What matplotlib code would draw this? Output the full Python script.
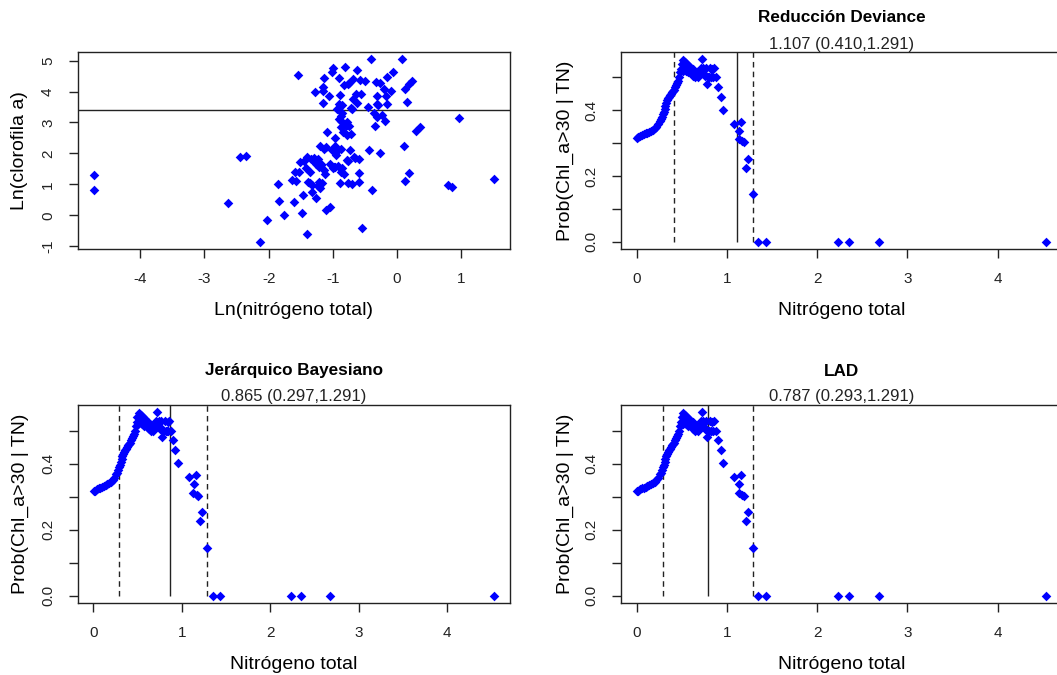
#!/usr/bin/env python3

import numpy as np
import matplotlib
matplotlib.use('Agg')
import matplotlib.pyplot as plt

plt.rcParams['font.family'] = ['Liberation Sans', 'DejaVu Sans']
plt.rcParams['axes.unicode_minus'] = False

# scatter: ln(total nitrogen) vs ln(chlorophyll a)
ln_tn = [
    -4.72, -4.72, -2.64, -2.44, -2.36, -2.14, -2.03, -1.85, -1.84, -1.76,
    -1.64, -1.60, -1.59, -1.57, -1.55, -1.52, -1.51, -1.48, -1.47, -1.42,
    -1.40, -1.40, -1.39, -1.36, -1.34, -1.33, -1.32, -1.29, -1.28, -1.27,
    -1.26, -1.23, -1.22, -1.23, -1.21, -1.20, -1.19, -1.16, -1.17, -1.15,
    -1.15, -1.14, -1.13, -1.13, -1.12, -1.10, -1.09, -1.06, -1.04, -1.02,
    -1.01, -1.00, -0.99, -0.97, -0.97, -0.96, -0.95, -0.93, -0.91, -0.90,
    -0.90, -0.89, -0.89, -0.88, -0.88, -0.87, -0.86, -0.85, -0.84, -0.83,
    -0.82, -0.81, -0.80, -0.78, -0.78, -0.77, -0.76, -0.75, -0.73, -0.72,
    -0.71, -0.70, -0.69, -0.68, -0.67, -0.64, -0.62, -0.62, -0.60, -0.60,
    -0.59, -0.58, -0.56, -0.54, -0.50, -0.46, -0.44, -0.40, -0.39, -0.36,
    -0.34, -0.33, -0.32, -0.32, -0.31, -0.30, -0.26, -0.26, -0.23, -0.20,
    -0.19, -0.17, -0.15, -0.15, -0.09, -0.06, 0.07, 0.11, 0.13, 0.13,
    0.16, 0.19, 0.19, 0.23, 0.30, 0.35, 0.80, 0.85, 0.97, 1.51,
    -1.25, -1.18, -1.05, -0.98, -0.92, -1.30, -1.10, -0.95, -0.88, -0.87,
    -0.83, -0.75, -0.70, -0.65, -1.35, -1.20, -1.45, -0.78, -0.85, -0.76,
]
ln_chl = [
    1.29, 0.81, 0.40, 1.88, 1.91, -0.85, -0.16, 1.01, 0.46, 0.02,
    1.15, 0.42, 1.39, 1.12, 4.53, 1.39, 1.72, 0.09, 0.67, 1.53,
    1.88, -0.60, 1.08, 1.39, 1.81, 0.74, 0.99, 1.75, 3.98, 0.57,
    1.67, 1.83, 1.56, 0.95, 1.08, 2.23, 1.67, 4.14, 1.05, 4.01,
    3.63, 2.15, 4.42, 1.45, 1.34, 0.18, 2.68, 3.84, 0.27, 4.62,
    2.10, 4.76, 1.52, 2.49, 2.23, 1.56, 1.94, 3.42, 4.42, 3.12,
    3.60, 1.04, 3.89, 2.85, 1.39, 2.15, 3.30, 1.54, 2.69, 4.22,
    1.34, 4.78, 2.89, 2.60, 3.03, 1.04, 1.77, 4.27, 2.10, 3.46,
    2.63, 1.02, 3.76, 4.41, 1.90, 3.92, 4.71, 3.62, 1.83, 1.08,
    1.37, 4.38, 3.92, -0.40, 4.35, 3.49, 2.12, 5.04, 0.81, 3.30,
    2.90, 4.32, 3.60, 3.17, 3.84, 3.57, 4.28, 2.01, 3.23, 4.08,
    3.04, 3.84, 3.60, 4.46, 4.01, 4.63, 5.04, 2.23, 4.08, 1.12,
    3.67, 1.37, 4.25, 4.35, 2.74, 2.85, 0.99, 0.91, 3.15, 1.19,
    1.70, 1.62, 1.65, 1.55, 1.60, 1.85, 2.20, 2.05, 3.20, 3.05,
    2.95, 2.90, 3.45, 1.85, 1.05, 0.90, 1.75, 1.80, 3.55, 4.25,
]
chl_threshold = 30

# conditional probability curve P(Chl_a > 30 | TN)
prob_tn = [
    0.009, 0.02, 0.04, 0.06, 0.08, 0.10, 0.12, 0.14, 0.16, 0.18,
    0.20, 0.22, 0.24, 0.26, 0.28, 0.30, 0.32, 0.34, 0.36, 0.38,
    0.40, 0.42, 0.44, 0.46, 0.48, 0.50, 0.52, 0.54, 0.56, 0.58,
    0.60, 0.62, 0.64, 0.66, 0.68, 0.70, 0.72, 0.74, 0.76, 0.78,
    0.80, 0.82, 0.84, 0.86, 0.88, 0.90, 0.93, 0.96,
    0.51, 0.53, 0.55, 0.57, 0.59, 0.61, 0.63, 0.65, 0.67, 0.71,
    0.73, 0.75, 0.77, 0.79, 0.81, 0.83, 0.85, 0.27, 0.29, 0.31,
    0.33, 0.35, 0.37, 0.39, 0.43, 0.45, 0.47, 0.49,
    1.08, 1.13, 1.14, 1.16, 1.17, 1.19, 1.21, 1.23, 1.29,
    1.35, 1.43, 2.23, 2.35, 2.68, 4.53,
]
prob_val = [
    0.317, 0.318, 0.322, 0.325, 0.327, 0.330, 0.332, 0.334, 0.337, 0.340,
    0.345, 0.350, 0.357, 0.367, 0.380, 0.395, 0.413, 0.430, 0.440, 0.450,
    0.458, 0.463, 0.478, 0.490, 0.515, 0.540, 0.553, 0.548, 0.540, 0.535,
    0.530, 0.525, 0.520, 0.510, 0.500, 0.515, 0.555, 0.530, 0.505, 0.480,
    0.500, 0.500, 0.525, 0.528, 0.500, 0.472, 0.440, 0.401,
    0.520, 0.530, 0.520, 0.515, 0.520, 0.510, 0.505, 0.500, 0.515, 0.530,
    0.520, 0.510, 0.530, 0.500, 0.530, 0.500, 0.500, 0.372, 0.388, 0.404,
    0.422, 0.436, 0.445, 0.455, 0.470, 0.484, 0.500, 0.525,
    0.358, 0.312, 0.337, 0.365, 0.305, 0.302, 0.225, 0.252, 0.144,
    0.0, 0.0, 0.0, 0.0, 0.0, 0.0,
]

# change point estimate with (lower, upper) interval for each method
methods = ['Reducción Deviance', 'Jerárquico Bayesiano', 'LAD']
cp_est = [1.107, 0.865, 0.787]
cp_low = [0.410, 0.297, 0.293]
cp_high = [1.291, 1.291, 1.291]

blue = '#0000ff'
tick_fs = 11
label_fs = 14


def style_axes(ax):
    for s in ax.spines.values():
        s.set_linewidth(1.0)
        s.set_color('#222222')
    ax.tick_params(direction='out', length=6.5, width=1.0, color='#222222',
                   labelsize=tick_fs, pad=10, labelcolor='#222222')
    for lab in ax.get_yticklabels():
        lab.set_rotation(90)
        lab.set_va('center')


def place_labels(ax, xlab, ylab, ylab_x):
    ax.set_xlabel(xlab, fontsize=label_fs)
    ax.set_ylabel(ylab, fontsize=label_fs)
    ax.xaxis.set_label_coords(0.5, -0.31)
    ax.xaxis.label.set_va('center')
    ax.yaxis.set_label_coords(ylab_x, 0.5)
    ax.yaxis.label.set_va('center')


def prob_panel(ax, i, ylab_x):
    ax.scatter(prob_tn, prob_val, s=24, marker='D', color=blue, linewidths=0, zorder=3)
    ax.vlines([cp_low[i], cp_high[i]], 0, 1, colors='#222222', linewidth=1.0,
              linestyles=(0, (4, 3)))
    ax.vlines([cp_est[i]], 0, 1, colors='#222222', linewidth=1.0)
    lo, hi = min(prob_tn), max(prob_tn)
    pad = 0.04 * (hi - lo)
    ax.set_xlim(lo - pad, hi + pad)
    ymax = max(prob_val)
    ax.set_ylim(-0.04 * ymax, ymax * 1.04)
    ax.set_xticks([0, 1, 2, 3, 4])
    ax.set_yticks([0.0, 0.1, 0.2, 0.3, 0.4, 0.5])
    ax.set_yticklabels(['0.0', '', '0.2', '', '0.4', ''])
    style_axes(ax)
    place_labels(ax, 'Nitrógeno total', 'Prob(Chl_a>30 | TN)', ylab_x)
    h = ax.get_position().height * 675
    ax.text(0.5, 1 + 34 / h, methods[i], transform=ax.transAxes, ha='center',
            va='center', fontsize=12.3, fontweight='bold')
    ax.text(0.5, 1 + 8 / h, '%.3f (%.3f,%.3f)' % (cp_est[i], cp_low[i], cp_high[i]),
            transform=ax.transAxes, ha='center', va='center', fontsize=12,
            color='#222222')


fig = plt.figure(figsize=(10.57, 6.75), dpi=100)

# panel positions in figure fractions
left_col = (78 / 1057, 432 / 1057)
right_col = (621 / 1057, 441 / 1057)
top_row = (1 - 249 / 675, 197 / 675)
bot_row = (1 - 603 / 675, 198 / 675)

ax1 = fig.add_axes([left_col[0], top_row[0], left_col[1], top_row[1]])
ax2 = fig.add_axes([right_col[0], top_row[0], right_col[1], top_row[1]])
ax3 = fig.add_axes([left_col[0], bot_row[0], left_col[1], bot_row[1]])
ax4 = fig.add_axes([right_col[0], bot_row[0], right_col[1], bot_row[1]])

# scatter of the raw data
ax1.scatter(ln_tn, ln_chl, s=24, marker='D', color=blue, linewidths=0, zorder=3)
ax1.axhline(np.log(chl_threshold), color='#222222', linewidth=1.0)
xlo, xhi = min(ln_tn), max(ln_tn)
ylo, yhi = min(ln_chl), max(ln_chl)
ax1.set_xlim(xlo - 0.04 * (xhi - xlo), xhi + 0.04 * (xhi - xlo))
ax1.set_ylim(ylo - 0.04 * (yhi - ylo), yhi + 0.04 * (yhi - ylo))
ax1.set_xticks([-4, -3, -2, -1, 0, 1])
ax1.set_yticks([-1, 0, 1, 2, 3, 4, 5])
style_axes(ax1)
place_labels(ax1, 'Ln(nitrógeno total)', 'Ln(clorofila a)', -58 / 432)

prob_panel(ax2, 0, -56 / 441)
prob_panel(ax3, 1, -58 / 432)
prob_panel(ax4, 2, -56 / 441)

fig.savefig('out.png', dpi=100)
